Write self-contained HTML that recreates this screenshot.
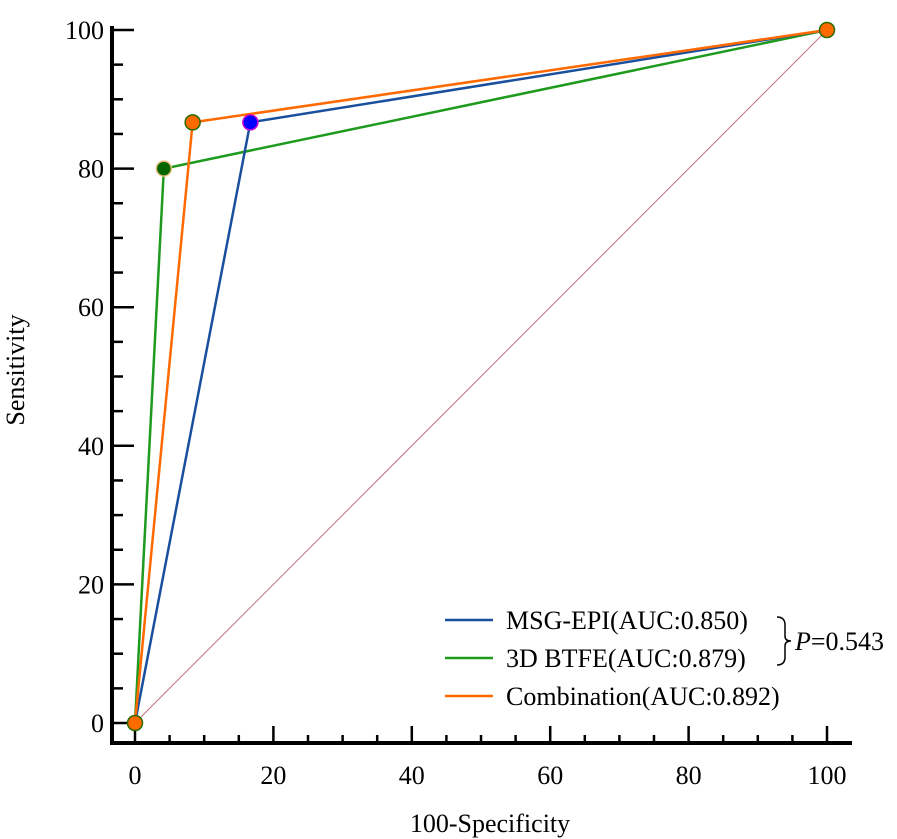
<!DOCTYPE html>
<html><head><meta charset="utf-8"><style>
body{margin:0;background:#fff}
svg{display:block;font-family:"Liberation Serif",serif}
</style></head><body>
<svg id="chart" width="897" height="839" viewBox="0 0 897 839"></svg>
<script>
const xTicks=[0,20,40,60,80,100];
const yTicks=[0,20,40,60,80,100];
const seriesNames=["MSG-EPI(AUC:0.850)","3D BTFE(AUC:0.879)","Combination(AUC:0.892)"];
const msgX=[0,16.67,100], msgY=[0,86.67,100];
const btfeX=[0,4.17,100], btfeY=[0,80,100];
const combX=[0,8.33,100], combY=[0,86.67,100];
const pLabel="=0.543";

const NS="http://www.w3.org/2000/svg";
const svg=document.getElementById('chart');
const sx=v=>135+v*6.92, sy=v=>723-v*6.93;
function el(t,a,p){const e=document.createElementNS(NS,t);for(const k in a)e.setAttribute(k,a[k]);(p||svg).appendChild(e);return e;}

let ax=el('line',{x1:112,y1:sy(100)-4,x2:112,y2:745,stroke:'#000','stroke-width':4});


let bx=el('line',{x1:110,y1:743,x2:852,y2:743,stroke:'#000','stroke-width':4});


for(let v=0;v<=100;v+=5){
  const maj=v%20===0;
  const t=el('line',{x1:112,y1:sy(v),x2:112+(maj?22:11),y2:sy(v),stroke:'#000','stroke-width':2.5});
  
  
  const u=el('line',{x1:sx(v),y1:743,x2:sx(v),y2:743-(maj?17:8),stroke:'#000','stroke-width':2.5});
  
  
}
yTicks.forEach(v=>{const t=el('text',{x:104,y:sy(v)+9,'text-anchor':'end','font-size':26});t.textContent=v;

});
xTicks.forEach(v=>{const t=el('text',{x:sx(v),y:784,'text-anchor':'middle','font-size':26});t.textContent=v;

});
let xt=el('text',{x:490,y:832,'text-anchor':'middle','font-size':26});xt.textContent='100-Specificity';


let yt=el('text',{x:0,y:0,'text-anchor':'middle','font-size':26,transform:'translate(24,370) rotate(-90)'});yt.textContent='Sensitivity';



let dg=el('line',{x1:sx(0),y1:sy(0),x2:sx(100),y2:sy(100),stroke:'#c07080','stroke-width':1});



const series=[
 {x:btfeX,y:btfeY,c:'#1e9a1e',fill:'#006400',st:'#e8c080',n:'btfe'},
 {x:msgX,y:msgY,c:'#1a4f9e',fill:'#0000ff',st:'#cc00cc',n:'msg-epi'},
 {x:combX,y:combY,c:'#ff6a00',fill:'#ff6a00',st:'#2a6a00',n:'combination'}];
series.forEach(s=>{
  const p=el('polyline',{points:s.x.map((v,i)=>sx(v)+','+sy(s.y[i])).join(' '),fill:'none',stroke:s.c,'stroke-width':2.5});
  
  
});
series.forEach(s=>{
  s.x.forEach((v,i)=>{ if(i===0&&s.n!=='combination')return; if(i===2&&s.n!=='combination')return;
    const c=el('circle',{cx:sx(v),cy:sy(s.y[i]),r:7.5,fill:s.fill,stroke:s.st,'stroke-width':1.5});
    
    
  });
});

const lc=['#1a4f9e','#1e9a1e','#ff6a00'];
seriesNames.forEach((n,i)=>{
  const y=620+i*38;
  const l=el('line',{x1:445,y1:y,x2:493,y2:y,stroke:lc[i],'stroke-width':2.5});
  
  
  const t=el('text',{x:506,y:y+9,'font-size':26});t.textContent=n;
  
  
});
let br=el('path',{d:'M777,617 Q785,617 785,625 L785,636 Q785,641 791,641 Q785,641 785,646 L785,657 Q785,665 777,665',fill:'none',stroke:'#000','stroke-width':1.5});


let pt=el('text',{x:795,y:650,'font-size':26});


const ti=el('tspan',{'font-style':'italic'},pt);ti.textContent='P';
const tr=el('tspan',{},pt);tr.textContent=pLabel;
</script>
</body></html>
